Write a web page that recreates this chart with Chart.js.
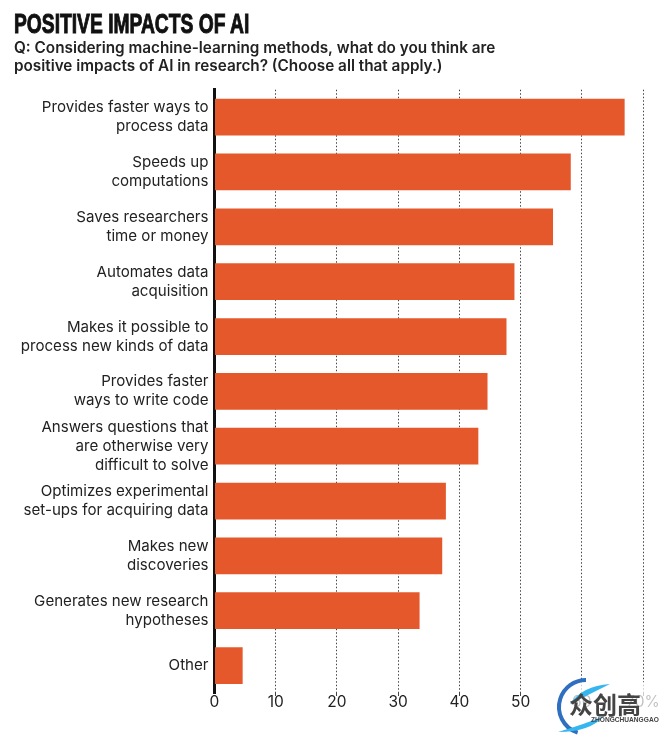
<!DOCTYPE html>
<html>
<head>
<meta charset="utf-8">
<style>
  html, body { margin: 0; padding: 0; background: #fff; }
  #wrap { position: relative; width: 660px; height: 736px; overflow: hidden; }
  #heading {
    position: absolute; left: 14px; top: 8px; margin: 0;
    font: bold 27.5px/32px "Liberation Sans", sans-serif;
    color: #111; white-space: nowrap;
    -webkit-text-stroke: 1px #111;
    transform: scaleX(0.7); transform-origin: left top;
  }
</style>
<script src="https://cdn.jsdelivr.net/npm/chart.js@4"></script>
</head>
<body>
<div id="wrap">
  <h1 id="heading"></h1>
  <canvas id="myChart" width="660" height="736"></canvas>
</div>
<script>
var categories = [
  ["Provides faster ways to", "process data"],
  ["Speeds up", "computations"],
  ["Saves researchers", "time or money"],
  ["Automates data", "acquisition"],
  ["Makes it possible to", "process new kinds of data"],
  ["Provides faster", "ways to write code"],
  ["Answers questions that", "are otherwise very", "difficult to solve"],
  ["Optimizes experimental", "set-ups for acquiring data"],
  ["Makes new", "discoveries"],
  ["Generates new research", "hypotheses"],
  "Other",
];

var yvalues = [67, 58.2, 55.3, 49, 47.7, 44.6, 43.1, 37.8, 37.2, 33.5, 4.6];

var titleText = "POSITIVE IMPACTS OF AI";
var subtitleLines = [
  "Q: Considering machine-learning methods, what do you think are",
  "positive impacts of AI in research? (Choose all that apply.)",
];

var barColor = "#E5582B";
var labelFont = "Inter, 'Noto Sans', sans-serif";

document.getElementById("heading").textContent = titleText;

// watermark sits on top of the bottom right corner of the picture
var watermark = {
  id: "watermark",
  afterDraw: function (chart) {
    var c = chart.ctx;
    c.save();
    c.fillStyle = "rgba(255,255,255,0.72)";
    c.fillRect(560, 682, 100, 54);

    c.strokeStyle = "#2f6fc0";
    c.lineWidth = 4;
    c.beginPath();
    c.arc(586, 707, 27, Math.PI * 0.6, Math.PI * 1.5);
    c.stroke();

    c.fillStyle = "#35b6ee";
    c.beginPath();
    c.moveTo(558, 732);
    c.quadraticCurveTo(590, 732, 604, 716);
    c.quadraticCurveTo(585, 724, 558, 732);
    c.fill();
    c.beginPath();
    c.moveTo(610, 684);
    c.quadraticCurveTo(582, 686, 570, 704);
    c.quadraticCurveTo(590, 694, 610, 684);
    c.fill();

    c.fillStyle = "#444";
    c.font = "bold 24px 'Noto Sans CJK SC'";
    c.textAlign = "left";
    c.textBaseline = "middle";
    c.fillText("众创高", 569, 705);
    c.font = "bold 6.6px 'Liberation Sans'";
    c.fillText("ZHONGCHUANGGAO", 591, 720);
    c.restore();
  },
};

new Chart(document.getElementById("myChart"), {
  type: "bar",
  data: {
    labels: categories,
    datasets: [
      {
        backgroundColor: barColor,
        data: yvalues,
        categoryPercentage: 1,
        barPercentage: 0.67,
      },
    ],
  },
  plugins: [watermark],
  options: {
    indexAxis: "y",
    responsive: false,
    animation: false,
    layout: { padding: { left: 14, right: 17, top: 0, bottom: 0 } },
    plugins: {
      legend: { display: false },
      tooltip: { enabled: false },
      subtitle: {
        display: true,
        text: subtitleLines,
        align: "start",
        color: "#222",
        font: { family: labelFont, size: 15.3, weight: "600", lineHeight: 1.2 },
        padding: { top: 39, bottom: 14 },
      },
    },
    scales: {
      x: {
        min: 0,
        max: 70,
        afterFit: function (scale) {
          scale.height = 43;
        },
        border: { display: false, dash: [1.5, 2] },
        grid: {
          tickLength: 3,
          lineWidth: 1,
          color: function (ctx) {
            return ctx.tick && ctx.tick.value === 0 ? "transparent" : "#444";
          },
        },
        ticks: {
          stepSize: 10,
          maxRotation: 0,
          padding: -3,
          color: "#222",
          font: { family: labelFont, size: 15.5 },
          callback: function (v) {
            return v === 70 ? "70%" : v;
          },
        },
      },
      y: {
        afterFit: function (scale) {
          scale.width = 200.5;
        },
        border: { display: true, color: "#111", width: 3 },
        grid: { display: false, drawTicks: false },
        ticks: {
          padding: 6,
          autoSkip: false,
          color: "#222",
          font: { family: labelFont, size: 15.1, lineHeight: 1.26 },
        },
      },
    },
  },
});
</script>
</body>
</html>
